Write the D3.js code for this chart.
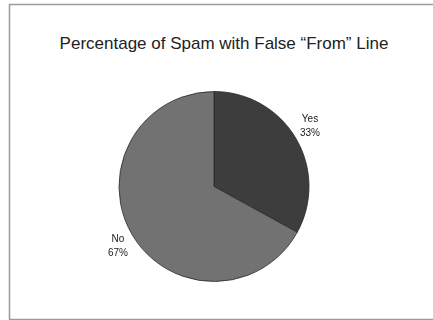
<!DOCTYPE html>
<html>
<head>
<meta charset="utf-8">
<script src="https://cdn.jsdelivr.net/npm/d3@7"></script>
<style>
  html, body { margin: 0; padding: 0; background: #fff; }
  svg { display: block; }
</style>
</head>
<body>
<svg id="chart" width="433" height="320"></svg>
<script>
// Share of spam messages carrying a forged "From" line
const categories = ["Yes", "No"];
const values = [33, 67];
const colors = ["#3d3d3d", "#727272"];
const title = "Percentage of Spam with False \u201CFrom\u201D Line";

const svg = d3.select("#chart");
const W = 433, H = 320;

const defs = svg.append("defs");
defs.append("filter").attr("id", "soft")
  .append("feGaussianBlur").attr("stdDeviation", 0.35);

// outer frame
svg.append("rect")
  .attr("x", 9.5).attr("y", 4.5)
  .attr("width", W + 10).attr("height", H - 5)
  .attr("fill", "#fff").attr("stroke", "#9a9a9a").attr("stroke-width", 1.5);

svg.append("text")
  .attr("x", 224).attr("y", 49)
  .attr("text-anchor", "middle")
  .attr("font-family", "'Liberation Sans', Arial, sans-serif")
  .attr("font-size", 17)
  .attr("fill", "#222")
  .text(title);

const cx = 214, cy = 186.5, r = 95;
const data = categories.map((c, i) => ({ cat: c, value: values[i], color: colors[i] }));

const pie = d3.pie().value(d => d.value).sort(null);
const arc = d3.arc().innerRadius(0).outerRadius(r);

const g = svg.append("g").attr("transform", `translate(${cx},${cy})`).attr("filter", "url(#soft)");
const arcs = pie(data);

g.selectAll("path").data(arcs).join("path")
  .attr("d", arc)
  .attr("fill", d => d.data.color)
  .attr("stroke", "#2a2a2a")
  .attr("stroke-width", 0.8);

// labels sit outside the rim, beside each slice's outer edge
const labelPos = { Yes: [96, -64.5], No: [-96, 55.5] };

const lbl = g.selectAll("text.lbl").data(arcs).join("text")
  .attr("class", "lbl")
  .attr("text-anchor", "middle")
  .attr("font-family", "'Liberation Sans', Arial, sans-serif")
  .attr("font-size", 10)
  .attr("fill", "#222")
  .attr("transform", d => `translate(${labelPos[d.data.cat][0]},${labelPos[d.data.cat][1]})`);
lbl.append("tspan").attr("x", 0).attr("dy", 0).text(d => d.data.cat);
lbl.append("tspan").attr("x", 0).attr("dy", 14).text(d => d.data.value + "%");
</script>
</body>
</html>
